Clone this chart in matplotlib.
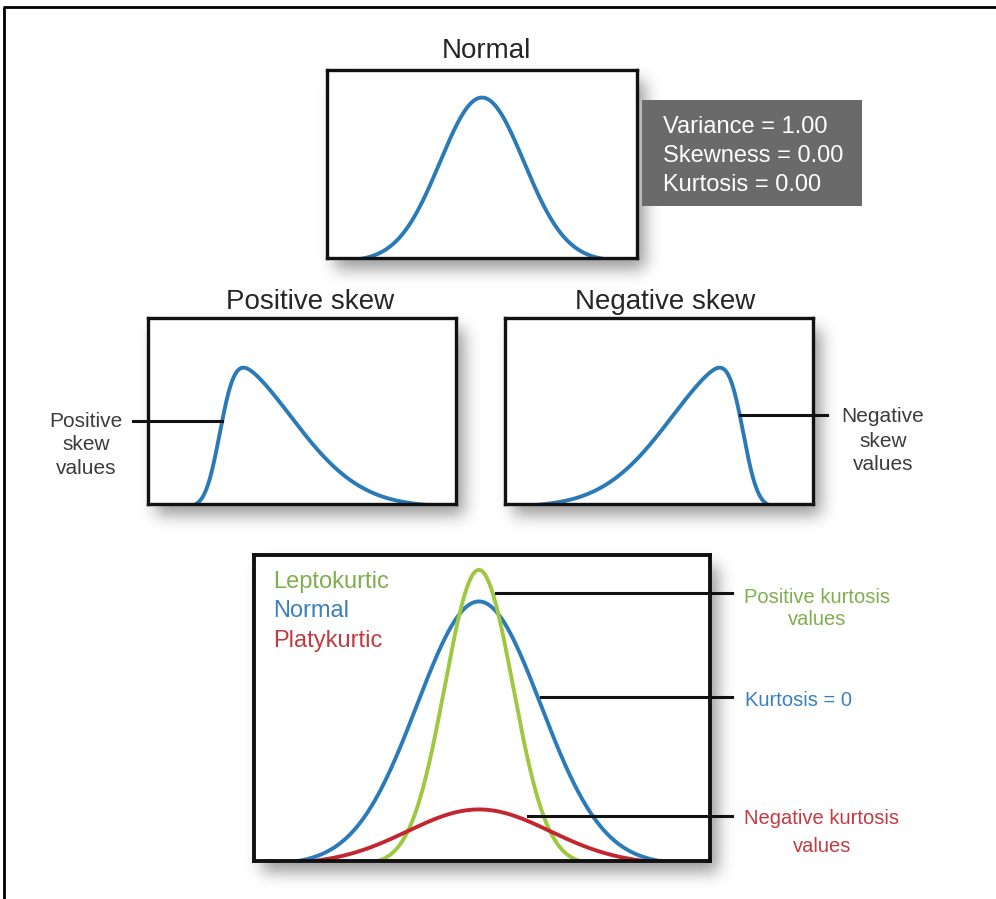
import math
import numpy as np
import matplotlib
matplotlib.use("Agg")
import matplotlib.pyplot as plt
from matplotlib.patches import Rectangle

plt.rcParams['font.family'] = ['Liberation Sans', 'DejaVu Sans']

# ---------------- data ----------------
# top panel: standard normal
normal_mean = 0.0
normal_sd = 1.0
normal_stats_labels = ["Variance", "Skewness", "Kurtosis"]
normal_stats_values = [1.00, 0.00, 0.00]

# skewed panels: skew-normal shape parameters (location 0, scale 1)
skew_titles = ["Positive skew", "Negative skew"]
skew_alphas = [6.0, -6.0]
skew_side_labels = ["Positive\nskew\nvalues", "Negative\nskew\nvalues"]

# kurtosis panel
kurt_names = ["Leptokurtic", "Normal", "Platykurtic"]
kurt_sds = [0.55, 1.0, 1.15]
kurt_peaks = [1.12, 1.0, 0.21]
kurt_colors = ["#9dc83f", "#2b7bba", "#c3262f"]
kurt_text_colors = ["#7fae4c", "#3a80c0", "#c23b42"]
kurt_side_labels = ["Positive kurtosis\nvalues", "Kurtosis = 0", "Negative kurtosis\nvalues"]

BLUE = "#2a7ab8"

# ---------------- layout helpers ----------------
W, H = 996, 899
fig = plt.figure(figsize=(W / 100, H / 100), dpi=100)
fig.patch.set_facecolor("white")


def rect(x0, y0, x1, y1):
    return [x0 / W, 1 - y1 / H, (x1 - x0) / W, (y1 - y0) / H]


boxes = {
    "normal": (327, 70, 637, 258),
    "pos": (148, 318, 456, 504),
    "neg": (505, 318, 813, 504),
    "kurt": (254, 555, 710, 861),
}

# ---------------- shadows ----------------
sig = 8
rr = 3 * sig
t = np.arange(-rr, rr + 1)
kern = np.exp(-t ** 2 / (2 * sig ** 2))
kern /= kern.sum()
mask = np.zeros((H, W))
dx, dy = 8, 11
for (x0, y0, x1, y1) in boxes.values():
    mask[y0 + dy:min(H, y1 + dy), x0 + dx:min(W, x1 + dx)] = 1.0
mask = np.apply_along_axis(lambda v: np.convolve(v, kern, mode="same"), 1, mask)
mask = np.apply_along_axis(lambda v: np.convolve(v, kern, mode="same"), 0, mask)
shadow = np.zeros((H, W, 4))
shadow[..., :3] = 0.2
shadow[..., 3] = 0.5 * mask

bg = fig.add_axes([0, 0, 1, 1], zorder=0)
bg.imshow(shadow, extent=(0, W, H, 0), aspect="auto", interpolation="bilinear")
bg.set_xlim(0, W)
bg.set_ylim(H, 0)
bg.axis("off")


def panel(key, lw=2.4):
    ax = fig.add_axes(rect(*boxes[key]), zorder=2)
    ax.set_facecolor("white")
    ax.set_xticks([])
    ax.set_yticks([])
    for s in ax.spines.values():
        s.set_linewidth(lw)
        s.set_color("#111111")
        s.set_zorder(3)
    return ax


def npdf(x, m, s):
    return np.exp(-0.5 * ((x - m) / s) ** 2) / (s * math.sqrt(2 * math.pi))


erf_v = np.vectorize(math.erf)


def skewnorm_pdf(x, a):
    return 2 * npdf(x, 0, 1) * 0.5 * (1 + erf_v(a * x / math.sqrt(2)))


def set_ylim_peak(ax, ymax, frac, cut=0.012):
    top = ymax / frac
    ax.set_ylim(cut * top, top)


# ---------------- top normal ----------------
axn = panel("normal")
xn = np.linspace(-3.69, 3.69, 600)
yn = npdf(xn, normal_mean, normal_sd)
axn.plot(xn, yn, color=BLUE, lw=2.8)
axn.set_xlim(-3.69, 3.69)
set_ylim_peak(axn, yn.max(), 0.856, cut=0.018)

# ---------------- skew panels ----------------
axp = panel("pos")
xp = np.linspace(-1.03, 3.37, 600)
yp = skewnorm_pdf(xp, skew_alphas[0])
axp.plot(xp, yp, color=BLUE, lw=2.8)
axp.set_xlim(-1.03, 3.37)
set_ylim_peak(axp, yp.max(), 0.737, cut=0.015)

axg = panel("neg")
xg = np.linspace(-3.4, 1.0, 600)
yg = skewnorm_pdf(xg, skew_alphas[1])
axg.plot(xg, yg, color=BLUE, lw=2.8)
axg.set_xlim(-3.4, 1.0)
set_ylim_peak(axg, yg.max(), 0.737, cut=0.015)

# ---------------- kurtosis panel ----------------
axk = panel("kurt", lw=2.8)
xk = np.linspace(-3.63, 3.73, 800)
ykeep = {}
for i in [1, 0, 2]:
    yk = kurt_peaks[i] * np.exp(-0.5 * (xk / kurt_sds[i]) ** 2)
    ykeep[i] = yk
    axk.plot(xk, yk, color=kurt_colors[i], lw=2.8)
axk.set_xlim(-3.63, 3.73)
set_ylim_peak(axk, 1.0, 0.85)

# ---------------- overlay ----------------
ov = fig.add_axes([0, 0, 1, 1], zorder=5)
ov.patch.set_alpha(0)
ov.set_xlim(0, W)
ov.set_ylim(H, 0)
ov.axis("off")

# outer frame (top and left)
ov.plot([3, W], [7, 7], color="black", lw=2.0, solid_capstyle="butt")
ov.plot([4, 4], [7, H], color="black", lw=2.0, solid_capstyle="butt")


def cross_px(ax, xs, ys, ypix, side):
    inv = ax.transData.inverted()
    yd = inv.transform((0, H - ypix))[1]
    i = int(np.argmax(ys))
    if side == "left":
        sx, sy = xs[:i + 1], ys[:i + 1]
    else:
        sx, sy = xs[i:][::-1], ys[i:][::-1]
    xd = np.interp(yd, sy, sx)
    return ax.transData.transform((xd, yd))[0]


LW_LEAD = 2.2
# skew leaders
y_l = 421
ov.plot([133, cross_px(axp, xp, yp, y_l, "left")], [y_l, y_l], color="#111111", lw=LW_LEAD)
y_l = 415
ov.plot([cross_px(axg, xg, yg, y_l, "right"), 827], [y_l, y_l], color="#111111", lw=LW_LEAD)

# kurtosis leaders
lead_y = {0: 593, 1: 697, 2: 816}
lead_gap = {0: 3, 1: 3, 2: 13}
for i in [0, 1, 2]:
    xs0 = cross_px(axk, xk, ykeep[i], lead_y[i], "right") + lead_gap[i]
    ov.plot([xs0, 732], [lead_y[i], lead_y[i]], color="#111111", lw=LW_LEAD)

# titles
TC = "#262626"
ov.text(486, 58, "Normal", fontsize=20, color=TC, ha="center", va="baseline")
ov.text(310, 309, skew_titles[0], fontsize=20, color=TC, ha="center", va="baseline")
ov.text(665, 309, skew_titles[1], fontsize=20, color=TC, ha="center", va="baseline")

# gray stats box
ov.add_patch(Rectangle((642, 100), 220, 106, facecolor="#6a6a6a", edgecolor="none"))
stat_baselines = [133, 162, 191]
for lab, val, yb in zip(normal_stats_labels, normal_stats_values, stat_baselines):
    ov.text(663, yb, f"{lab} = {val:.2f}", fontsize=17, color="white",
            ha="left", va="baseline")

# skew side labels
SC = "#3c3c3c"
for line, yb in zip(skew_side_labels[0].split("\n"), [427, 450, 474]):
    ov.text(86, yb, line, fontsize=15, color=SC, ha="center", va="baseline")
for line, yb in zip(skew_side_labels[1].split("\n"), [422, 447, 470]):
    ov.text(883, yb, line, fontsize=15, color=SC, ha="center", va="baseline")

# kurtosis legend texts
for name, col, yb in zip(kurt_names, kurt_text_colors, [588, 617, 647]):
    ov.text(273, yb, name, fontsize=17, color=col, ha="left", va="baseline")

# kurtosis side labels
l0 = kurt_side_labels[0].split("\n")
ov.text(817, 603, l0[0], fontsize=14.5, color=kurt_text_colors[0], ha="center", va="baseline")
ov.text(817, 625, l0[1], fontsize=14.5, color=kurt_text_colors[0], ha="center", va="baseline")
ov.text(745, 706, kurt_side_labels[1], fontsize=14.5, color=kurt_text_colors[1],
        ha="left", va="baseline")
l2 = kurt_side_labels[2].split("\n")
ov.text(822, 824, l2[0], fontsize=14.5, color=kurt_text_colors[2], ha="center", va="baseline")
ov.text(822, 852, l2[1], fontsize=14.5, color=kurt_text_colors[2], ha="center", va="baseline")

fig.savefig("out.png", dpi=100, facecolor="white")
